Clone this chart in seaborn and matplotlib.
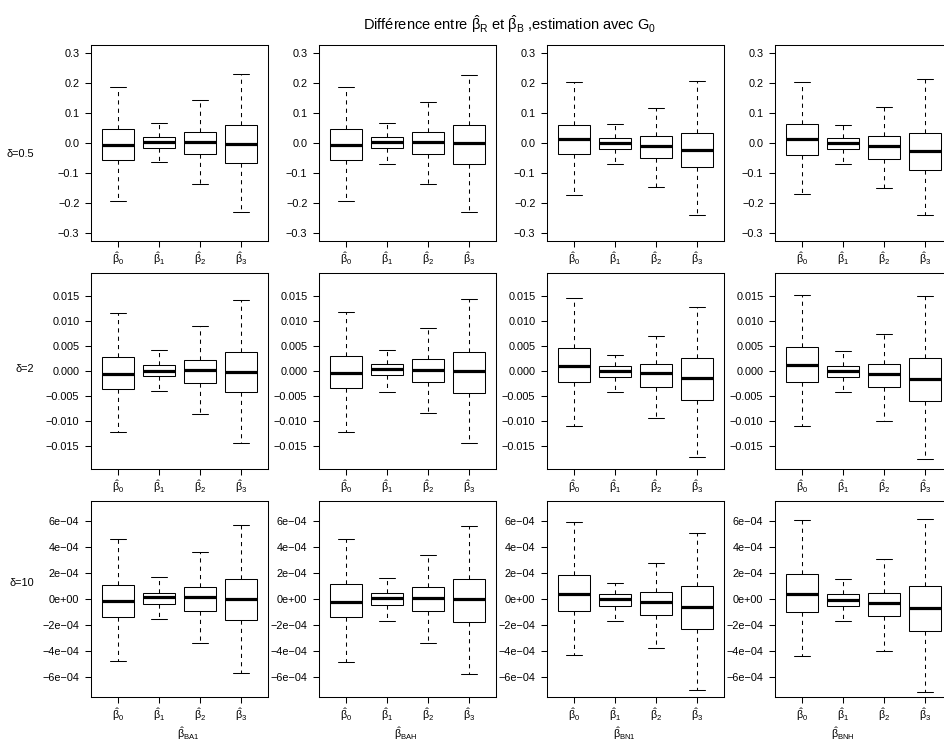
import numpy as np
import pandas as pd
import matplotlib
matplotlib.use("Agg")
import matplotlib.pyplot as plt
from matplotlib.ticker import FixedLocator
import seaborn as sns

# ---- labels -------------------------------------------------------------
coef_names = ["b0", "b1", "b2", "b3"]
coef_labels = [r"$\hat{\beta}_0$", r"$\hat{\beta}_1$", r"$\hat{\beta}_2$", r"$\hat{\beta}_3$"]
estimator_labels = [r"$\hat{\beta}_{\mathrm{BA1}}$", r"$\hat{\beta}_{\mathrm{BAH}}$",
                    r"$\hat{\beta}_{\mathrm{BN1}}$", r"$\hat{\beta}_{\mathrm{BNH}}$"]
delta_labels = ["δ=0.5", "δ=2", "δ=10"]
title = r"Différence entre $\hat{\beta}_R$ et $\hat{\beta}_B$ ,estimation avec $G_0$"

# ---- five-number summaries: [lower whisker, Q1, median, Q3, upper whisker]
# delta = 0.5
d05_BA1 = [[-0.193, -0.056, -0.008, 0.045, 0.185],
           [-0.062, -0.017, 0.003, 0.020, 0.066],
           [-0.136, -0.037, 0.004, 0.036, 0.143],
           [-0.228, -0.065, -0.002, 0.060, 0.229]]
d05_BAH = [[-0.194, -0.056, -0.008, 0.047, 0.185],
           [-0.069, -0.017, 0.004, 0.019, 0.066],
           [-0.136, -0.037, 0.003, 0.036, 0.137],
           [-0.230, -0.071, -0.001, 0.061, 0.227]]
d05_BN1 = [[-0.171, -0.037, 0.012, 0.060, 0.202],
           [-0.071, -0.021, 0.000, 0.017, 0.062],
           [-0.147, -0.049, -0.009, 0.022, 0.117],
           [-0.238, -0.081, -0.023, 0.034, 0.206]]
d05_BNH = [[-0.168, -0.039, 0.013, 0.063, 0.202],
           [-0.071, -0.021, 0.000, 0.017, 0.061],
           [-0.149, -0.052, -0.010, 0.022, 0.119],
           [-0.239, -0.090, -0.026, 0.033, 0.213]]

# delta = 2
d2_BA1 = [[-0.01215, -0.00352, -0.00053, 0.00272, 0.01162],
          [-0.00392, -0.00106, 0.00007, 0.00113, 0.00412],
          [-0.00850, -0.00232, 0.00020, 0.00226, 0.00896],
          [-0.01427, -0.00418, -0.00020, 0.00372, 0.01420]]
d2_BAH = [[-0.01208, -0.00338, -0.00033, 0.00305, 0.01168],
          [-0.00418, -0.00086, 0.00033, 0.00133, 0.00418],
          [-0.00843, -0.00219, 0.00027, 0.00232, 0.00863],
          [-0.01440, -0.00431, 0.00000, 0.00385, 0.01434]]
d2_BN1 = [[-0.01088, -0.00212, 0.00100, 0.00458, 0.01460],
          [-0.00411, -0.00126, 0.00000, 0.00106, 0.00319],
          [-0.00942, -0.00312, -0.00046, 0.00139, 0.00704],
          [-0.01719, -0.00577, -0.00139, 0.00252, 0.01274]]
d2_BNH = [[-0.01088, -0.00219, 0.00120, 0.00485, 0.01507],
          [-0.00418, -0.00126, 0.00000, 0.00100, 0.00398],
          [-0.00989, -0.00319, -0.00060, 0.00139, 0.00730],
          [-0.01759, -0.00597, -0.00160, 0.00252, 0.01500]]

# delta = 10
d10_BA1 = [[-4.81e-4, -1.36e-4, -0.18e-4, 1.11e-4, 4.63e-4],
           [-1.52e-4, -0.41e-4, 0.13e-4, 0.49e-4, 1.67e-4],
           [-3.37e-4, -0.90e-4, 0.13e-4, 0.93e-4, 3.63e-4],
           [-5.69e-4, -1.62e-4, -0.03e-4, 1.52e-4, 5.71e-4]]
d10_BAH = [[-4.84e-4, -1.42e-4, -0.21e-4, 1.16e-4, 4.63e-4],
           [-1.72e-4, -0.44e-4, 0.08e-4, 0.46e-4, 1.65e-4],
           [-3.40e-4, -0.93e-4, 0.08e-4, 0.90e-4, 3.37e-4],
           [-5.77e-4, -1.75e-4, -0.03e-4, 1.52e-4, 5.64e-4]]
d10_BN1 = [[-4.35e-4, -0.90e-4, 0.39e-4, 1.83e-4, 5.92e-4],
           [-1.72e-4, -0.51e-4, 0.00e-4, 0.41e-4, 1.26e-4],
           [-3.78e-4, -1.26e-4, -0.21e-4, 0.57e-4, 2.75e-4],
           [-6.98e-4, -2.34e-4, -0.59e-4, 1.03e-4, 5.12e-4]]
d10_BNH = [[-4.40e-4, -0.98e-4, 0.41e-4, 1.93e-4, 6.05e-4],
           [-1.72e-4, -0.57e-4, -0.05e-4, 0.39e-4, 1.54e-4],
           [-3.99e-4, -1.34e-4, -0.28e-4, 0.49e-4, 3.11e-4],
           [-7.18e-4, -2.47e-4, -0.67e-4, 1.00e-4, 6.15e-4]]

panels = [[d05_BA1, d05_BAH, d05_BN1, d05_BNH],
          [d2_BA1, d2_BAH, d2_BN1, d2_BNH],
          [d10_BA1, d10_BAH, d10_BN1, d10_BNH]]

# y ticks per row
row_ticks = [[-0.3, -0.2, -0.1, 0.0, 0.1, 0.2, 0.3],
             [-0.015, -0.010, -0.005, 0.000, 0.005, 0.010, 0.015],
             [-6e-4, -4e-4, -2e-4, 0.0, 2e-4, 4e-4, 6e-4]]
row_tick_labels = [["−0.3", "−0.2", "−0.1", "0.0", "0.1", "0.2", "0.3"],
                   ["−0.015", "−0.010", "−0.005", "0.000", "0.005", "0.010", "0.015"],
                   ["−6e−04", "−4e−04", "−2e−04", "0e+00", "2e−04", "4e−04", "6e−04"]]
row_ylim = [(-0.325, 0.325), (-0.0195, 0.0195), (-7.55e-4, 7.55e-4)]

# ---- style --------------------------------------------------------------
sns.set_theme(style="ticks")
plt.rcParams.update({
    "font.family": ["Liberation Sans", "DejaVu Sans"],
    "mathtext.fontset": "custom",
    "mathtext.rm": "Liberation Sans",
    "mathtext.it": "Liberation Sans",
    "mathtext.bf": "Liberation Sans:bold",
    "axes.edgecolor": "black",
    "axes.linewidth": 0.75,
    "axes.facecolor": "white",
    "figure.facecolor": "white",
    "xtick.color": "black",
    "ytick.color": "black",
    "text.color": "black",
})

W, H = 945, 751
fig = plt.figure(figsize=(W / 100, H / 100), dpi=100)

col_left = [91, 319, 547, 775]
row_top = [45, 273, 501]
ax_w, ax_h = 177, 196

for r in range(3):
    for c in range(4):
        x0 = col_left[c]
        y0 = row_top[r]
        ax = fig.add_axes([x0 / W, 1 - (y0 + ax_h) / H, ax_w / W, ax_h / H])
        summary = panels[r][c]
        df = pd.DataFrame({
            "coef": np.repeat(coef_names, 5),
            "value": np.concatenate([np.asarray(s, dtype=float) for s in summary]),
        })
        sns.boxplot(data=df, x="coef", y="value", order=coef_names, ax=ax,
                    whis=(0, 100), width=0.8, color="white", saturation=1,
                    linecolor="black", linewidth=0.75, fliersize=0,
                    medianprops={"linewidth": 2.3, "color": "black"},
                    whiskerprops={"linestyle": (0, (4, 4))})
        ax.set_xlim(-0.66, 3.66)
        ax.set_ylim(*row_ylim[r])
        ax.set_xticks(range(4))
        ax.set_xticklabels(coef_labels)
        ax.yaxis.set_major_locator(FixedLocator(row_ticks[r]))
        ax.set_yticklabels(row_tick_labels[r])
        ax.set_xlabel("")
        ax.set_ylabel("")
        ax.grid(False)
        for sp in ax.spines.values():
            sp.set_visible(True)
            sp.set_color("black")
            sp.set_linewidth(0.75)
        ax.tick_params(axis="both", direction="out", length=4.3, width=0.75,
                       labelsize=7.8, colors="black")
        ax.tick_params(axis="y", pad=4)
        ax.tick_params(axis="x", pad=2)

# title
fig.text(510 / W, 1 - 24 / H, title, ha="center", va="center", fontsize=10.5)

# row labels
for lab, yc in zip(delta_labels, [154, 369, 583]):
    fig.text(34 / W, 1 - yc / H, lab, ha="right", va="center", fontsize=7.8)

# estimator labels under the bottom row
for lab, xc in zip(estimator_labels, [188, 406, 624, 843]):
    fig.text(xc / W, 1 - 734 / H, lab, ha="center", va="center", fontsize=7.8)

fig.savefig("out.png", dpi=100)
